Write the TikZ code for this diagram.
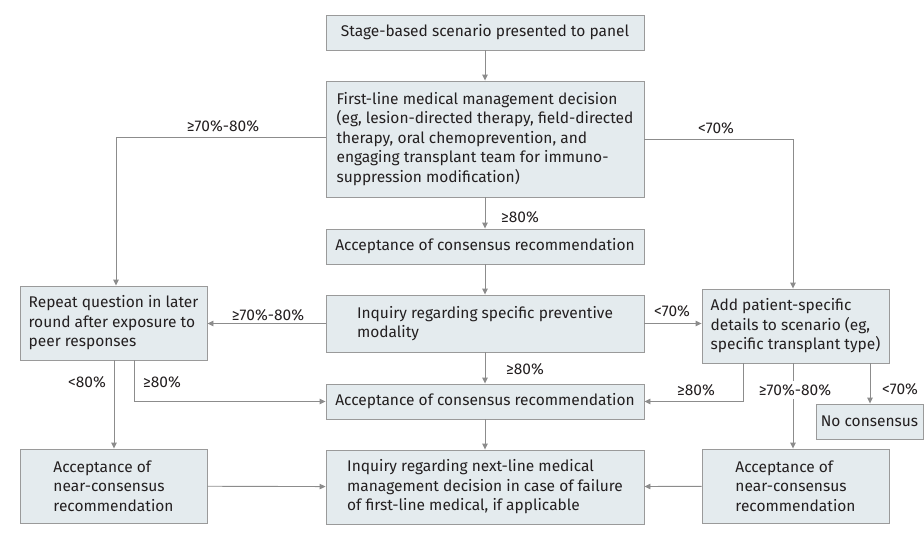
\documentclass[tikz,border=0pt]{standalone}
\usepackage{fontspec}
\setmainfont{Fira Sans}
\usetikzlibrary{arrows.meta,calc}
\definecolor{boxfill}{HTML}{E4EBEE}
\definecolor{boxline}{HTML}{9A9A9A}
\definecolor{arrline}{HTML}{8C8C8C}
\definecolor{txt}{HTML}{231F20}
\begin{document}
\begin{tikzpicture}[x=1pt,y=-1pt,
  font=\fontsize{15.5}{19.5}\selectfont,
  box/.style={draw=boxline,fill=boxfill,line width=0.9pt,align=left,inner sep=0pt,text=txt},
  wide/.style={box,minimum width=318pt},
  narrow/.style={box,minimum width=187pt},
  arr/.style={draw=arrline,line width=0.9pt,-{Triangle[width=5.5pt,length=6pt]}},
  ln/.style={draw=arrline,line width=0.9pt},
  lab/.style={text=txt,inner sep=1pt}]
\useasboundingbox (0,0) rectangle (924,544);
% nodes
\node[wide,minimum height=35pt] (top) at (485,32.5) {Stage-based scenario presented to panel};
\node[wide,minimum height=116pt] (first) at (485,139) {First-line medical management decision\\(eg, lesion-directed therapy, field-directed\\therapy, oral chemoprevention, and\\engaging transplant team for immuno-\\suppression modification)};
\node[wide,minimum height=35pt] (acc1) at (485,246.5) {Acceptance of consensus recommendation};
\node[wide,minimum height=57pt] (inq) at (485,323.5) {Inquiry regarding specific preventive\\modality};
\node[wide,minimum height=35pt] (acc2) at (485,401.5) {Acceptance of consensus recommendation};
\node[wide,minimum height=74pt] (next) at (485,487) {Inquiry regarding next-line medical\\management decision in case of failure\\of first-line medical, if applicable};
\node[narrow,minimum height=74pt] (repeat) at (113.5,323) {Repeat question in later\\round after exposure to\\peer responses};
\node[narrow,minimum height=74pt] (nearL) at (113.5,486) {Acceptance of\\near-consensus\\recommendation};
\node[narrow,minimum height=74pt] (add) at (795.5,326) {Add patient-specific\\details to scenario (eg,\\specific transplant type)};
\node[narrow,minimum height=74pt] (nearR) at (795.5,486) {Acceptance of\\near-consensus\\recommendation};
\node[box,minimum width=107pt,minimum height=35pt] (nocons) at (869.5,421.5) {No consensus};
% coordinates
\coordinate (lbend) at (116,137);
\coordinate (rbend) at (793,139);
\coordinate (rA) at (134,401.5);
\coordinate (addA) at (743,363);
\coordinate (addB) at (793,363);
\coordinate (addC) at (870,363);
% connectors
\draw[arr] (top) -- (first);
\draw[arr] (first.west |- lbend) -- (lbend) -- (lbend |- repeat.north);
\draw[arr] (first.east) -- (rbend) -- (rbend |- add.north);
\draw[arr] (first) -- (acc1);
\draw[arr] (acc1) -- (inq);
\draw[arr] (inq.west) -- (inq.west -| repeat.east);
\draw[arr] (inq.east) -- (inq.east -| add.west);
\draw[arr] (inq) -- (acc2);
\draw[arr] (acc2) -- (next);
\draw[arr] (repeat.south) ++(0.5,0) coordinate (rB) -- (rB |- nearL.north);
\draw[arr] (rA |- repeat.south) -- (rA) -- (acc2.west);
\draw[arr] (addA) |- (acc2.east);
\draw[arr] (addB) -- (addB |- nearR.north);
\draw[arr] (addC) -- (addC |- nocons.north);
\draw[arr] (nearL) -- (next);
\draw[arr] (nearR) -- (next);
% labels
\node[lab] (l1) at (223,126) {≥70\%-80\%};
\node[lab] (l2) at (716,128) {<70\%};
\node[lab] (l3) at (520,217) {≥80\%};
\node[lab] (l4) at (268,315) {≥70\%-80\%};
\node[lab] (l5) at (672,311) {<70\%};
\node[lab] (l6) at (525,369) {≥80\%};
\node[lab] (l7) at (87,382) {<80\%};
\node[lab] (l8) at (162,382) {≥80\%};
\node[lab] (l9) at (696,390) {≥80\%};
\node[lab,fill=white,inner ysep=3pt] (l10) at (795,390) {≥70\%-80\%};
\node[lab] (l11) at (900,389) {<70\%};
\end{tikzpicture}
\end{document}
